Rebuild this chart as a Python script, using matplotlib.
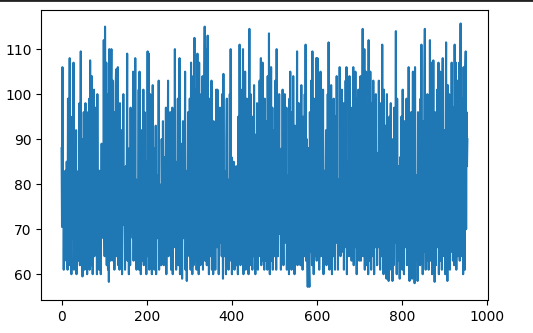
import matplotlib
matplotlib.use("Agg")
import matplotlib.pyplot as plt
from matplotlib.lines import Line2D

values = [
    88, 70.5, 106, 72, 80, 61, 74, 78, 66, 83, 75, 63, 85, 73, 61, 99, 78, 70, 76, 108,
    62, 80, 73, 60, 77, 95, 68, 83, 107, 61, 78, 74, 82, 71, 92, 60, 79, 73, 77, 63,
    83, 70, 98, 62, 81, 109.5, 64, 76, 90, 59.5, 86, 66, 96, 72, 61, 84, 98, 65, 79, 88,
    60, 77, 96, 63, 82, 99, 61, 107.5, 70, 86, 62, 104, 75, 60, 92, 68, 101, 64, 80, 97,
    69, 78, 86, 60, 100, 72, 76, 81, 61, 83, 74, 79, 60, 74, 89, 70, 80, 77, 68, 112,
    74, 64, 115, 90, 68, 107, 62, 100, 78, 61, 95, 58.3, 110, 70, 86, 63, 99, 110, 66, 80,
    103, 63, 73, 96, 61, 84, 77, 102, 105.5, 64, 82, 70, 106, 62, 90, 75, 61, 98, 69, 84,
    70, 92, 60, 79, 74, 100, 71, 80, 76, 61, 72, 84, 67, 83, 109, 63, 76, 79, 60, 88,
    74, 62, 97, 75, 70, 80, 78, 68, 105, 63, 86, 74, 69, 108, 72, 81, 61, 80, 77, 65,
    78, 101, 61, 105, 68, 84, 60, 92, 75, 63, 88, 70, 101, 62, 79, 96, 64, 72, 85, 60,
    83, 73, 109.5, 64, 90, 109, 61, 78, 100, 66, 71, 95, 60, 84, 102, 63, 76, 88, 61, 81,
    72, 93, 60, 77, 82, 68, 79, 74, 103, 61, 80, 76, 70, 75, 62, 90, 79, 71, 94, 73,
    62, 86, 78, 70, 76, 97, 60, 84, 75, 79, 103, 64, 78, 81, 69, 96, 74, 61, 80, 72,
    97, 60, 80, 74, 78, 66, 110, 72, 85, 61, 81, 76, 70, 99, 62, 82, 75, 108, 60, 73,
    89, 70, 78, 59, 78, 94, 68, 85, 76, 72, 105, 61, 77, 82, 58.5, 83, 74, 96, 65, 79,
    64, 99, 76, 61, 107, 68, 90, 60, 82, 104, 62, 86, 112.5, 70, 63, 101, 78, 61, 95, 109,
    66, 83, 60, 107, 73, 92, 62, 80, 100, 64, 76, 104, 61, 88, 71, 98, 115, 63, 84, 75,
    110, 62, 96, 113, 68, 81, 60, 99, 74, 64, 90, 70, 103, 61, 85, 78, 60, 94, 72, 66,
    87, 61, 80, 101, 72, 66, 101, 75, 79, 60, 84, 72, 97, 67, 79, 76, 64, 100, 73, 59,
    104.5, 71, 83, 64, 79, 77, 60, 89, 99, 65, 73, 80, 61, 81, 75, 100, 70, 110, 63, 86,
    60, 72, 79, 63, 85, 68, 61, 81, 74, 64, 84, 62, 70, 77, 60, 95, 73, 66, 111, 80,
    62, 101, 74, 90, 63, 84, 110, 60, 79, 97, 68, 105, 61, 86, 72, 99, 64, 80, 92, 60,
    83, 114.5, 67, 76, 100, 62, 89, 71, 61, 95, 78, 64, 102, 70, 84, 60, 91, 75, 63, 98,
    72, 61, 86, 79, 64, 103, 70, 96, 108, 62, 81, 74, 107, 63, 90, 68, 61, 99, 77, 85,
    63, 94, 71, 61, 104, 78, 66, 113.5, 72, 60, 89, 80, 106, 63, 75, 97, 61, 84, 70, 92,
    64, 82, 103, 73, 61, 110, 72, 80, 64, 86, 77, 100, 69, 80, 76, 61, 74, 88, 70, 101,
    72, 62, 79, 75, 100, 67, 85, 72, 97, 61, 76, 80, 68, 82, 60, 99, 73, 105, 70, 84,
    61, 96, 78, 68, 104, 74, 80, 60, 93, 74, 65, 79, 80, 109.5, 62, 83, 72, 98, 66, 77,
    91, 62, 84, 102, 68, 79, 61, 95, 73, 86, 64, 100, 70, 111, 63, 81, 90, 66, 57.2, 88,
    74, 61, 57.2, 96, 80, 65, 103, 72, 62, 109.5, 68, 85, 60, 99, 76, 64, 92, 71, 108, 63,
    87, 108, 70, 78, 95, 61, 84, 74, 105, 64, 80, 76, 67, 73, 101, 60, 83, 76, 79, 68,
    79, 92, 62, 86, 70, 100, 63, 111.5, 75, 61, 96, 82, 67, 102, 72, 60, 89, 78, 64, 99,
    73, 85, 61, 95, 76, 67, 104, 72, 81, 61, 81, 79, 68, 106, 74, 64, 80, 78, 101, 65,
    83, 72, 98, 61, 80, 77, 66, 103, 74, 106, 60, 85, 79, 70, 80, 64, 104, 75, 82, 68,
    79, 63, 97, 74, 81, 106, 62, 80, 76, 66, 105, 72, 83, 60, 99, 78, 68, 101, 74, 63,
    89, 75, 104, 63, 94, 70, 82, 114.5, 64, 99, 71, 110, 61, 86, 77, 105, 62, 93, 68, 80,
    60, 112, 72, 91, 63, 105, 79, 61, 98, 70, 85, 64, 103, 74, 60, 94, 82, 66, 100, 71,
    87, 62, 80, 77, 66, 103, 72, 79, 61, 84, 98, 64, 75, 111, 70, 82, 60, 101, 74, 80,
    64, 93, 72, 59, 100, 76, 66, 83, 58.5, 80, 95, 68, 75, 98, 61, 84, 71, 58.5, 90, 75,
    62, 97, 79, 67, 82, 114, 72, 60, 99, 74, 84, 63, 81, 72, 59, 86, 77, 66, 95, 73,
    61, 101, 70, 82, 60, 94, 75, 66, 80, 72, 99, 62, 78, 85, 67, 106, 72, 58.5, 91, 76,
    63, 96, 73, 59, 84, 105, 70, 62, 80, 58, 106, 74, 63, 82, 68, 79, 58.5, 96, 72, 65,
    88, 75, 62, 99, 70, 111, 64, 84, 60, 94, 78, 65, 103, 114.5, 70, 61, 92, 76, 63, 100,
    72, 84, 61, 97, 68, 112, 74, 63, 107, 79, 60, 90, 71, 107.5, 64, 85, 58.3, 96, 75, 62,
    89, 71, 101, 66, 82, 107, 60, 80, 74, 105, 63, 86, 77, 61, 99, 108, 70, 83, 64, 92,
    74, 60, 95, 111.5, 69, 86, 58.5, 102, 77, 64, 100, 72, 61, 91, 83, 65, 107, 70, 88, 63,
    97, 75, 62, 111, 80, 67, 107, 61, 90, 73, 103, 64, 85, 70, 107, 63, 95, 115.7, 68, 82,
    64, 99, 72, 60, 106, 77, 88, 61, 105, 109.5, 70, 96, 84, 90,
]

fig = plt.figure(figsize=(5.33, 3.33), dpi=100)
ax = fig.add_axes([0.0775, 0.0991, 0.8375, 0.870])
ax.plot(range(len(values)), values, color="#1f77b4", linewidth=1.5)

fig.add_artist(Line2D([0, 1], [1.0, 1.0], transform=fig.transFigure,
                      color="#222222", linewidth=2.0))

fig.savefig("out.png", dpi=100)
